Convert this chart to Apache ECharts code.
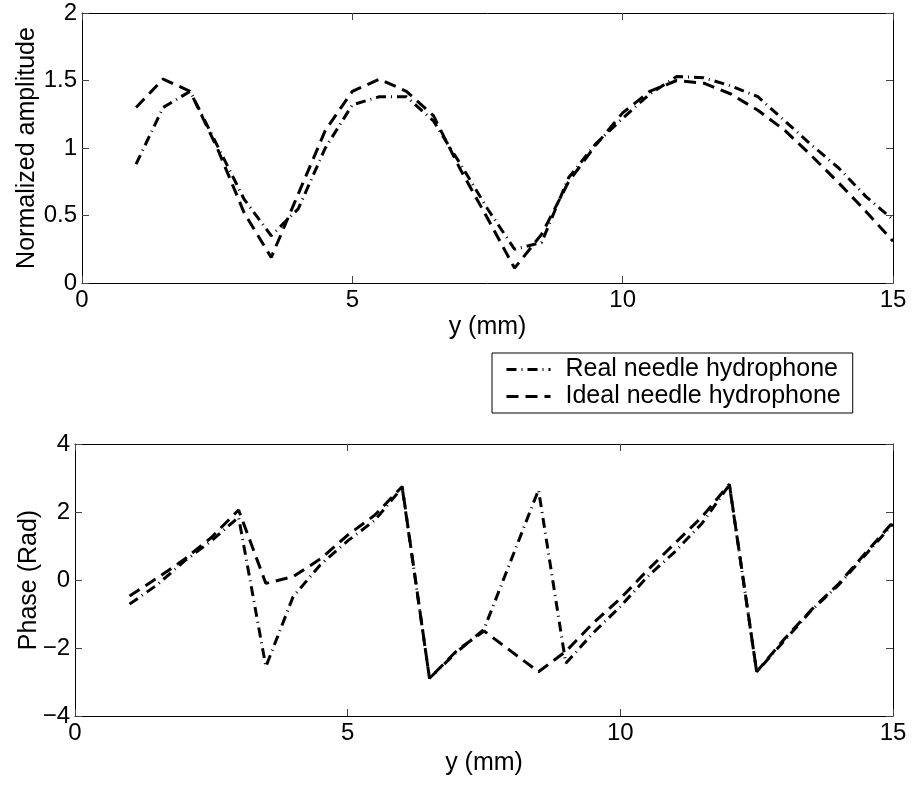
<!DOCTYPE html>
<html><head><meta charset="utf-8">
<script src="https://cdn.jsdelivr.net/npm/echarts@6/dist/echarts.min.js"></script>
<style>html,body{margin:0;padding:0;background:#fff}#c{width:913px;height:789px}</style>
</head><body><div id="c"></div>
<script>
// positions y (mm)
const yPos = [1,1.5,2,2.5,3,3.5,4,4.5,5,5.5,6,6.5,7,7.5,8,8.5,9,9.5,10,10.5,11,11.5,12,12.5,13,13.5,14,14.5,15];
// normalized amplitude
const ampReal  = [0.88,1.30,1.42,1.02,0.62,0.35,0.55,1.00,1.32,1.38,1.38,1.20,0.88,0.55,0.25,0.30,0.78,1.03,1.22,1.40,1.53,1.52,1.46,1.38,1.20,1.02,0.85,0.64,0.47];
const ampIdeal = [1.30,1.51,1.42,1.00,0.52,0.19,0.66,1.13,1.42,1.51,1.42,1.24,0.84,0.48,0.11,0.36,0.75,1.02,1.26,1.42,1.50,1.48,1.40,1.28,1.13,0.94,0.74,0.53,0.31];
// phase (rad)
const phaseReal  = [-0.71,-0.15,0.55,1.15,1.85,-2.55,-0.49,0.45,1.15,1.76,2.72,-2.89,-2.12,-1.45,0.60,2.65,-2.45,-1.56,-0.78,0.10,0.83,1.67,2.80,-2.70,-1.80,-0.90,-0.15,0.75,1.65];
const phaseIdeal = [-0.47,0.05,0.60,1.25,2.06,-0.10,0.10,0.62,1.32,1.91,2.75,-2.89,-2.08,-1.50,-2.10,-2.70,-2.10,-1.27,-0.55,0.29,1.08,1.86,2.82,-2.70,-1.75,-0.88,-0.12,0.80,1.70];
const seriesNames = ['Real needle hydrophone','Ideal needle hydrophone'];
const xLabel = 'y (mm)';
const yLabelTop = 'Normalized amplitude';
const yLabelBottom = 'Phase (Rad)';

const FONT = "'Liberation Sans', Arial, sans-serif";
const pairs = (xs, ys) => xs.map((x, i) => [x, ys[i]]);
const fmt = v => String(v).replace('-', '\u2212');

function xAx(grid, pos, main, gap) {
  return {
    gridIndex: grid, type: 'value', min: 0, max: 15, interval: 5, position: pos,
    axisLine: {show: true, onZero: false, lineStyle: {color: '#000', width: 1}},
    axisTick: {show: true, inside: true, length: 7, lineStyle: {color: '#444'}},
    axisLabel: {show: main, color: '#000', fontSize: 24, fontFamily: FONT, margin: 5, formatter: fmt},
    splitLine: {show: false},
    name: main ? xLabel : '', nameLocation: 'middle', nameGap: gap || 30, nameMoveOverlap: false,
    nameTextStyle: {color: '#000', fontSize: 25, fontFamily: FONT}
  };
}
function yAx(grid, pos, main, min, max, interval, name, gap) {
  return {
    gridIndex: grid, type: 'value', min: min, max: max, interval: interval, position: pos,
    axisLine: {show: true, onZero: false, lineStyle: {color: '#000', width: 1}},
    axisTick: {show: true, inside: true, length: 7, lineStyle: {color: '#444'}},
    axisLabel: {show: main, color: '#000', fontSize: 24, fontFamily: FONT, margin: 5, formatter: fmt},
    splitLine: {show: false},
    name: main ? name : '', nameLocation: 'middle', nameGap: gap, nameRotate: 90, nameMoveOverlap: false,
    nameTextStyle: {color: '#000', fontSize: 25, fontFamily: FONT}
  };
}
const realStyle = {color: '#000', width: 3, type: [10, 5, 1, 5]};
const idealStyle = {color: '#000', width: 3, type: [12, 7]};

const chart = echarts.init(document.getElementById('c'), null, {renderer: 'canvas'});
chart.setOption({
  backgroundColor: '#fff',
  animation: false,
  grid: [
    {left: 82, top: 13, width: 811, height: 270, containLabel: false},
    {left: 75, top: 444, width: 818, height: 272, containLabel: false}
  ],
  xAxis: [xAx(0, 'bottom', true, 32), xAx(0, 'top', false), xAx(1, 'bottom', true, 35), xAx(1, 'top', false)],
  yAxis: [
    yAx(0, 'left', true, 0, 2, 0.5, yLabelTop, 42),
    yAx(0, 'right', false, 0, 2, 0.5, '', 0),
    yAx(1, 'left', true, -4, 4, 2, yLabelBottom, 33),
    yAx(1, 'right', false, -4, 4, 2, '', 0)
  ],
  legend: {
    show: true,
    left: 492, top: 353, orient: 'vertical',
    data: seriesNames,
    itemWidth: 44, itemHeight: 14, itemGap: 2,
    padding: [4, 12, 4, 13],
    borderColor: '#000', borderWidth: 1, backgroundColor: '#fff',
    itemStyle: {opacity: 0},
    lineStyle: {width: 3},
    textStyle: {color: '#000', fontSize: 25, fontFamily: FONT, padding: [0, 0, 0, 10]}
  },
  series: [
    {name: seriesNames[0], type: 'line', xAxisIndex: 0, yAxisIndex: 0, data: pairs(yPos, ampReal), symbol: 'none', lineStyle: realStyle, itemStyle: {color: '#000'}},
    {name: seriesNames[1], type: 'line', xAxisIndex: 0, yAxisIndex: 0, data: pairs(yPos, ampIdeal), symbol: 'none', lineStyle: idealStyle, itemStyle: {color: '#000'}},
    {name: seriesNames[0], type: 'line', xAxisIndex: 2, yAxisIndex: 2, data: pairs(yPos, phaseReal), symbol: 'none', lineStyle: realStyle, itemStyle: {color: '#000'}},
    {name: seriesNames[1], type: 'line', xAxisIndex: 2, yAxisIndex: 2, data: pairs(yPos, phaseIdeal), symbol: 'none', lineStyle: idealStyle, itemStyle: {color: '#000'}}
  ]
});
</script>
</body></html>
